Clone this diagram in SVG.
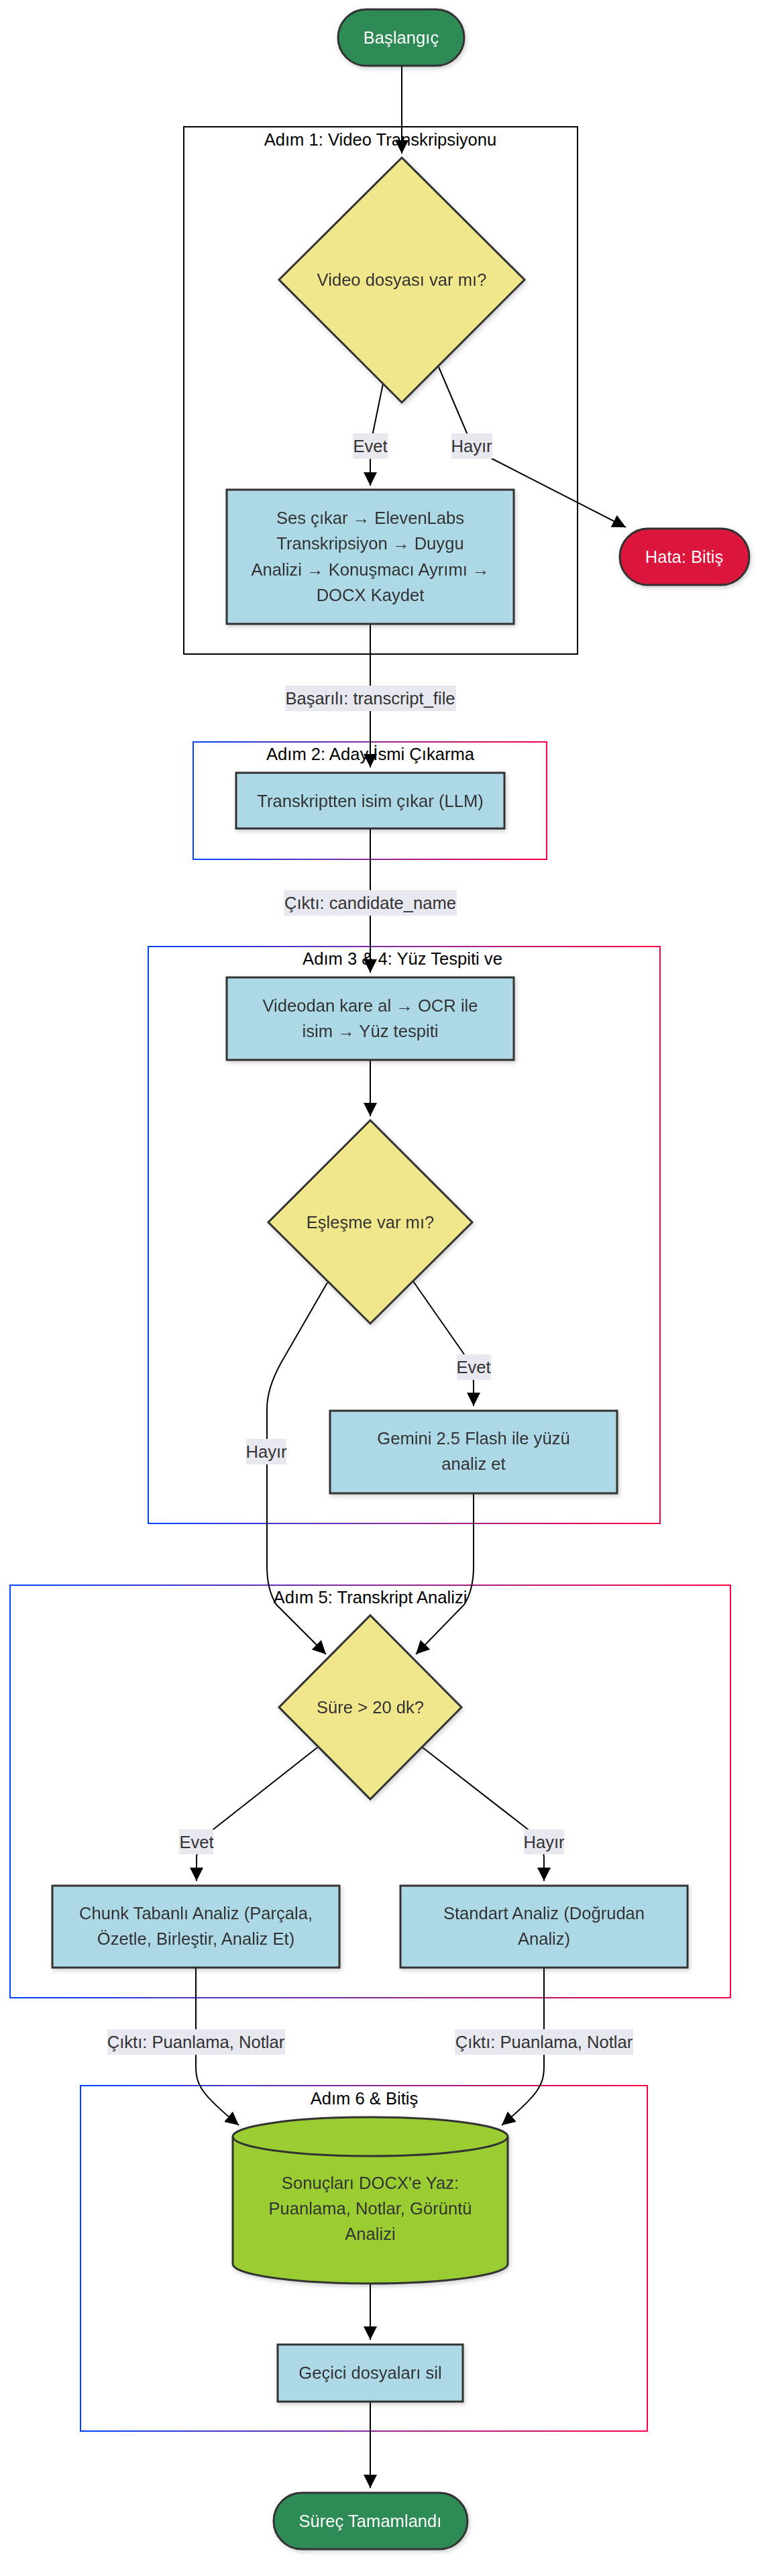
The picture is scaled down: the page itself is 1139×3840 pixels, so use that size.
<svg xmlns="http://www.w3.org/2000/svg" width="1139" height="3840" viewBox="0 0 1139 3840">
<defs>
<style>
text{font-family:"Liberation Sans",Arial,"DejaVu Sans",sans-serif;font-size:25.6px;text-anchor:middle}
.nt{fill:#333}
.wt{fill:#fff}
.ct{fill:#000}
.proc{fill:#ADD8E6;stroke:#333;stroke-width:3}
.dec{fill:#F0E68C;stroke:#333;stroke-width:3}
.term{fill:#2E8B57;stroke:#333;stroke-width:3}
.err{fill:#DC143C;stroke:#333;stroke-width:3}
.db{fill:#9ACD32;stroke:#333;stroke-width:3}
.cl1{fill:none;stroke:#000;stroke-width:2}
.clg{fill:none;stroke:url(#grad);stroke-width:2}
.edge{fill:none;stroke:#000;stroke-width:2}
.lbl{fill:#E8E8F0}
.node{filter:url(#sh)}
</style>
<linearGradient id="grad" x1="0" y1="0" x2="1" y2="0">
<stop offset="0" stop-color="#0044ff"/>
<stop offset="0.5" stop-color="#8a2a9a"/>
<stop offset="1" stop-color="#ff0044"/>
</linearGradient>
<filter id="sh" x="-10%" y="-10%" width="130%" height="130%">
<feDropShadow dx="2" dy="3" stdDeviation="3" flood-color="#000" flood-opacity="0.18"/>
</filter>
<marker id="arr" markerUnits="userSpaceOnUse" markerWidth="20" markerHeight="20" viewBox="0 0 20 20" refX="20" refY="10" orient="auto">
<path d="M0,0 L20,10 L0,20 z" fill="#000"/>
</marker>
</defs>
<rect x="0" y="0" width="1139" height="3840" fill="#fff"/>

<g id="clusters">
<g id="cluster-adim1">
<rect class="cl1" x="274" y="189" width="587" height="786"/>
<text class="ct" x="567" y="217">Adım 1: Video Transkripsiyonu</text>
</g>
<g id="cluster-adim2">
<rect class="clg" x="288" y="1106" width="527" height="175"/>
<text class="ct" x="552" y="1133">Adım 2: Aday İsmi Çıkarma</text>
</g>
<g id="cluster-adim34">
<rect class="clg" x="221" y="1411" width="763" height="860"/>
<text class="ct" x="600" y="1438">Adım 3 &amp; 4: Yüz Tespiti ve</text>
</g>
<g id="cluster-adim5">
<rect class="clg" x="15" y="2363" width="1074" height="615"/>
<text class="ct" x="552" y="2390">Adım 5: Transkript Analizi</text>
</g>
<g id="cluster-adim6">
<rect class="clg" x="120" y="3109" width="845" height="515"/>
<text class="ct" x="543" y="3137">Adım 6 &amp; Bitiş</text>
</g>
</g>

<g id="connectors">
<path class="edge" d="M599,98 L599,229" marker-end="url(#arr)"/>
<path class="edge" d="M571,572 L556,645 Q552,668 552,690 L552,724" marker-end="url(#arr)"/>
<path class="edge" d="M654,547 L700,655 Q710,676 734,684 L933,786" marker-end="url(#arr)"/>
<path class="edge" d="M552,930 L552,1144" marker-end="url(#arr)"/>
<path class="edge" d="M552,1235 L552,1450" marker-end="url(#arr)"/>
<path class="edge" d="M552,1580 L552,1664" marker-end="url(#arr)"/>
<path class="edge" d="M616,1910 L690,2016 Q706,2040 706,2062 L706,2096" marker-end="url(#arr)"/>
<path class="edge" d="M488,1912 L421,2028 Q398,2068 398,2100 L398,2335 Q398,2370 412,2392 L486,2466" marker-end="url(#arr)"/>
<path class="edge" d="M706,2226 L706,2335 Q706,2370 692,2392 L620,2466" marker-end="url(#arr)"/>
<path class="edge" d="M473,2605 L318,2727 Q293,2747 293,2770 L293,2804" marker-end="url(#arr)"/>
<path class="edge" d="M630,2605 L787,2727 Q811,2747 811,2770 L811,2804" marker-end="url(#arr)"/>
<path class="edge" d="M292,2933 L292,3080 C292,3108 300,3122 356,3168" marker-end="url(#arr)"/>
<path class="edge" d="M811,2933 L811,3080 C811,3108 803,3122 748,3168" marker-end="url(#arr)"/>
<path class="edge" d="M552,3403 L552,3488" marker-end="url(#arr)"/>
<path class="edge" d="M552,3580 L552,3709" marker-end="url(#arr)"/>

<g id="edge-labels">
<rect class="lbl" x="526" y="646" width="52" height="38"/>
<text class="nt" x="552" y="674">Evet</text>
<rect class="lbl" x="673" y="646" width="61" height="38"/>
<text class="nt" x="703" y="674">Hayır</text>
<rect class="lbl" x="425" y="1022" width="255" height="38"/>
<text class="nt" x="552" y="1050">Başarılı: transcript_file</text>
<rect class="lbl" x="423" y="1327" width="258" height="38"/>
<text class="nt" x="552" y="1355">Çıktı: candidate_name</text>
<rect class="lbl" x="681" y="2019" width="51" height="38"/>
<text class="nt" x="706" y="2047">Evet</text>
<rect class="lbl" x="367" y="2145" width="60" height="38"/>
<text class="nt" x="397" y="2173">Hayır</text>
<rect class="lbl" x="267" y="2727" width="51" height="37"/>
<text class="nt" x="293" y="2755">Evet</text>
<rect class="lbl" x="781" y="2727" width="60" height="37"/>
<text class="nt" x="811" y="2755">Hayır</text>
<rect class="lbl" x="160" y="3025" width="265" height="38"/>
<text class="nt" x="292" y="3053">Çıktı: Puanlama, Notlar</text>
<rect class="lbl" x="678" y="3025" width="266" height="38"/>
<text class="nt" x="811" y="3053">Çıktı: Puanlama, Notlar</text>
</g>
</g>

<g id="nodes">
<g id="start" class="node">
<rect class="term" x="504" y="14" width="188" height="84" rx="42" ry="42"/>
<text class="wt" x="598" y="65">Başlangıç</text>
</g>
<g id="d1" class="node">
<polygon class="dec" points="599,235 782,417 599,600 416,417"/>
<text class="nt" x="599" y="426">Video dosyası var mı?</text>
</g>
<g id="hata" class="node">
<rect class="err" x="924" y="788" width="193" height="84" rx="42" ry="42"/>
<text class="wt" x="1020" y="839">Hata: Bitiş</text>
</g>
<g id="transcribe" class="node">
<rect class="proc" x="338" y="730" width="428" height="200"/>
<text class="nt" x="552" y="781">Ses çıkar → ElevenLabs</text>
<text class="nt" x="552" y="819">Transkripsiyon → Duygu</text>
<text class="nt" x="552" y="858">Analizi → Konuşmacı Ayrımı →</text>
<text class="nt" x="552" y="896">DOCX Kaydet</text>
</g>
<g id="extract-name" class="node">
<rect class="proc" x="352" y="1152" width="400" height="83"/>
<text class="nt" x="552" y="1203">Transkriptten isim çıkar (LLM)</text>
</g>
<g id="ocr" class="node">
<rect class="proc" x="338" y="1457" width="428" height="123"/>
<text class="nt" x="552" y="1508">Videodan kare al → OCR ile</text>
<text class="nt" x="552" y="1546">isim → Yüz tespiti</text>
</g>
<g id="d2" class="node">
<polygon class="dec" points="552,1670 704,1822 552,1973 400,1822"/>
<text class="nt" x="552" y="1831">Eşleşme var mı?</text>
</g>
<g id="gemini" class="node">
<rect class="proc" x="492" y="2103" width="428" height="123"/>
<text class="nt" x="706" y="2153">Gemini 2.5 Flash ile yüzü</text>
<text class="nt" x="706" y="2191">analiz et</text>
</g>
<g id="d3" class="node">
<polygon class="dec" points="552,2408 688,2545 552,2682 416,2545"/>
<text class="nt" x="552" y="2554">Süre &gt; 20 dk?</text>
</g>
<g id="chunk" class="node">
<rect class="proc" x="78" y="2811" width="428" height="122"/>
<text class="nt" x="292" y="2861">Chunk Tabanlı Analiz (Parçala,</text>
<text class="nt" x="292" y="2899">Özetle, Birleştir, Analiz Et)</text>
</g>
<g id="standart" class="node">
<rect class="proc" x="597" y="2811" width="428" height="122"/>
<text class="nt" x="811" y="2861">Standart Analiz (Doğrudan</text>
<text class="nt" x="811" y="2899">Analiz)</text>
</g>
<g id="docx" class="node">
<path class="db" d="M347,3185 A205,29 0 0 1 757,3185 L757,3375 A205,29 0 0 1 347,3375 Z"/>
<path class="db" d="M347,3185 A205,29 0 0 0 757,3185" fill="none"/>
<text class="nt" x="552" y="3263">Sonuçları DOCX'e Yaz:</text>
<text class="nt" x="552" y="3301">Puanlama, Notlar, Görüntü</text>
<text class="nt" x="552" y="3339">Analizi</text>
</g>
<g id="cleanup" class="node">
<rect class="proc" x="414" y="3495" width="276" height="85"/>
<text class="nt" x="552" y="3546">Geçici dosyaları sil</text>
</g>
<g id="end" class="node">
<rect class="term" x="408" y="3716" width="289" height="84" rx="42" ry="42"/>
<text class="wt" x="552" y="3767">Süreç Tamamlandı</text>
</g>
</g>
</svg>
